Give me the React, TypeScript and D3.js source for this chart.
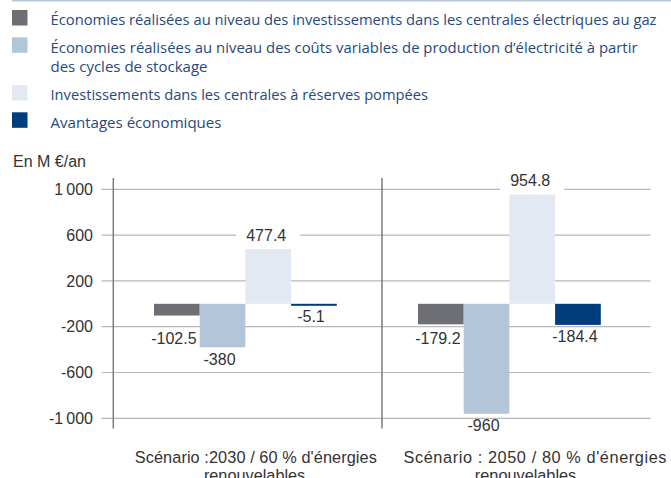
import React, { useEffect, useRef } from "react";
import * as d3 from "d3";

const categories = ["2030", "2050"];
const categoryLabels = [
  ["Scénario :2030 / 60 % d'énergies", "renouvelables"],
  ["Scénario : 2050 / 80 % d'énergies", "renouvelables"],
];
const seriesNames = [
  "Économies réalisées au niveau des investissements dans les centrales électriques au gaz",
  "Économies réalisées au niveau des coûts variables de production d’électricité à partir|des cycles de stockage",
  "Investissements dans les centrales à réserves pompées",
  "Avantages économiques",
];
const gasSavings = [-102.5, -179.2];
const variableCostSavings = [-380, -960];
const pumpedStorageInvest = [477.4, 954.8];
const economicBenefits = [-5.1, -184.4];
const tickValues = [1000, 600, 200, -200, -600, -1000];
const tickLabels = ["1\u2009000", "600", "200", "-200", "-600", "-1\u2009000"];
const valueLabels = [
  ["-102.5", "-179.2"],
  ["-380", "-960"],
  ["477.4", "954.8"],
  ["-5.1", "-184.4"],
];
const colors = ["#6e6f74", "#b3c5d8", "#e3e9f2", "#003d7c"];

const W = 671;
const H = 478;

export default function App() {
  const ref = useRef<SVGSVGElement | null>(null);

  useEffect(() => {
    const svg = d3.select(ref.current);
    svg.selectAll("*").remove();

    const series = [gasSavings, variableCostSavings, pumpedStorageInvest, economicBenefits];
    const chartFont = "'Liberation Sans', Arial, Helvetica, sans-serif";
    const legendFont = "'Open Sans', 'Noto Sans', sans-serif";
    const textColor = "#333333";
    const legendColor = "#27497d";

    // top rule
    svg.append("line").attr("x1", 12).attr("x2", W).attr("y1", 0.75).attr("y2", 0.75)
      .attr("stroke", "#b9c8d9").attr("stroke-width", 1.5);

    // legend
    const legendTops = [10, 37.3, 85, 112.3];
    const legendWidths = [[606], [587, 157], [377.5], [171]];
    seriesNames.forEach((name, i) => {
      svg.append("rect").attr("x", 12).attr("y", legendTops[i]).attr("width", 15.5).attr("height", 15.5)
        .attr("fill", colors[i]);
      name.split("|").forEach((line, j) => {
        svg.append("text").attr("x", 50.5).attr("y", legendTops[i] + 15.3 + j * 19.6)
          .attr("font-family", legendFont).attr("font-size", 15).attr("fill", legendColor)
          .attr("textLength", legendWidths[i][j]).attr("lengthAdjust", "spacingAndGlyphs")
          .text(line);
      });
    });

    // scales
    const y = d3.scaleLinear().domain([-1000, 1000]).range([418.3, 189.3]);
    const plotLeft = 113.3;
    const plotRight = 650.7;
    const xBand = d3.scaleBand<string>().domain(categories).range([plotLeft, plotRight]);
    const xBars = d3.scaleBand<string>().domain(categories).range([plotLeft, 641.3]);
    const xSeries = d3.scaleBand<number>().domain([0, 1, 2, 3]).range([40.7, 223.5]);

    // gridlines + ticks
    const grid = svg.append("g");
    tickValues.forEach((v, i) => {
      grid.append("line").attr("x1", 101.5).attr("x2", plotRight).attr("y1", y(v)).attr("y2", y(v))
        .attr("stroke", "#b8b8b8").attr("stroke-width", 1.2);
      svg.append("text").attr("x", 93).attr("y", y(v)).attr("dy", "0.36em").attr("text-anchor", "end")
        .attr("font-family", chartFont).attr("font-size", 16).attr("fill", textColor).text(tickLabels[i]);
    });

    // axis title
    svg.append("text").attr("x", 13).attr("y", 166.5).attr("font-family", chartFont).attr("font-size", 16)
      .attr("fill", textColor).text("En M €/an");

    // bars
    const zero = y(0);
    series.forEach((vals, s) => {
      vals.forEach((v, c) => {
        const x0 = (xBars(categories[c]) as number) + (xSeries(s) as number);
        const top = Math.min(y(v), zero);
        const h = Math.max(2, Math.abs(y(v) - zero));
        svg.append("rect").attr("x", x0).attr("y", top).attr("width", xSeries.bandwidth()).attr("height", h)
          .attr("fill", colors[s]);
      });
    });

    // value labels
    series.forEach((vals, s) => {
      vals.forEach((v, c) => {
        const cx = (xBars(categories[c]) as number) + (xSeries(s) as number) + xSeries.bandwidth() / 2;
        const label = valueLabels[s][c];
        if (v >= 0) {
          const by = y(v) - 8;
          const t = svg.append("text").attr("x", cx - 2).attr("y", by).attr("text-anchor", "middle")
            .attr("font-family", chartFont).attr("font-size", 16).attr("fill", textColor).text(label);
          const tw = (t.node() as SVGTextElement).getComputedTextLength();
          svg.insert("rect", () => t.node() as any).attr("x", cx - tw / 2 - 12).attr("y", by - 15)
            .attr("width", tw + 24).attr("height", 20).attr("fill", "#ffffff");
        } else {
          const bottom = s === 0 ? Math.max(y(v), y(-200)) : y(v);
          svg.append("text").attr("x", cx - 3).attr("y", bottom + 17.5).attr("text-anchor", "middle")
            .attr("font-family", chartFont).attr("font-size", 16).attr("fill", textColor).text(label);
        }
      });
    });

    // axis + separator
    svg.append("line").attr("x1", plotLeft).attr("x2", plotLeft).attr("y1", 178).attr("y2", 428.5)
      .attr("stroke", "#7c7c7c").attr("stroke-width", 1.5);
    const sepX = (xBand(categories[1]) as number);
    svg.append("line").attr("x1", sepX).attr("x2", sepX).attr("y1", 178).attr("y2", 428.5)
      .attr("stroke", "#7c7c7c").attr("stroke-width", 1.5);

    // category labels
    const labelWidths = [242, 263];
    categories.forEach((c, i) => {
      const x0 = (xBand(c) as number) + 21.5;
      const t1 = svg.append("text").attr("x", x0).attr("y", 463).attr("font-family", chartFont)
        .attr("font-size", 16.3).attr("fill", textColor)
        .attr("textLength", labelWidths[i]).attr("lengthAdjust", "spacing")
        .text(categoryLabels[i][0]);
      const w1 = (t1.node() as SVGTextElement).getComputedTextLength();
      svg.append("text").attr("x", x0 + w1 / 2).attr("y", 481).attr("text-anchor", "middle")
        .attr("font-family", chartFont).attr("font-size", 16.3).attr("fill", textColor).text(categoryLabels[i][1]);
    });
  }, []);

  return (
    <svg ref={ref} width={W} height={H}
      style={{ position: "absolute", left: 0, top: 0, background: "#ffffff", display: "block" }} />
  );
}
